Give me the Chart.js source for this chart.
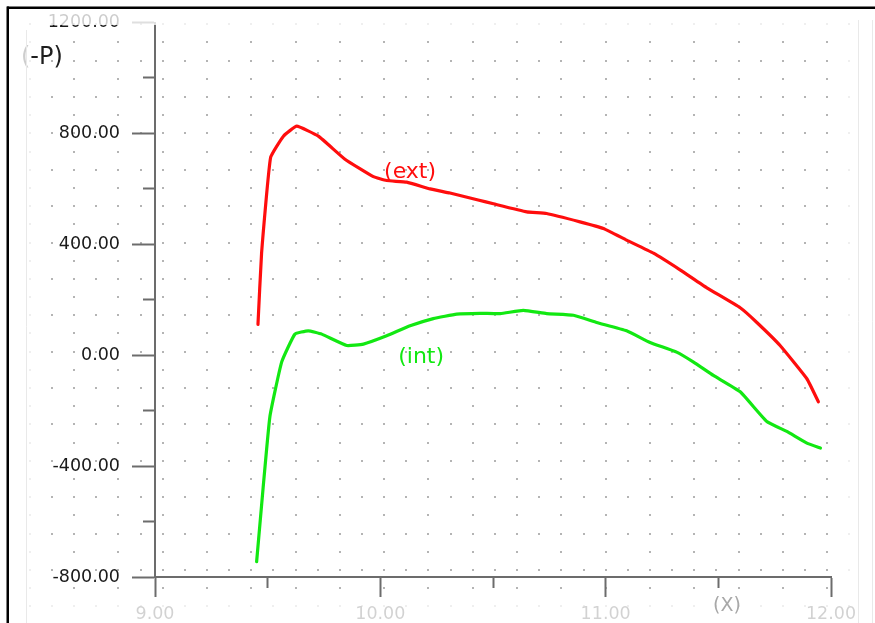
<!DOCTYPE html>
<html>
<head>
<meta charset="utf-8">
<script src="https://cdn.jsdelivr.net/npm/chart.js@4/dist/chart.umd.min.js"></script>
<style>
  html, body { margin: 0; padding: 0; background: #fff; }
  canvas { display: block; }
</style>
</head>
<body>
<canvas id="chart" width="875" height="623"></canvas>
<script>
// External pressure curve (ext)
const extX = [9.457, 9.473, 9.513, 9.570, 9.629, 9.725, 9.843, 9.969, 10.028, 10.117,
              10.221, 10.309, 10.434, 10.502, 10.650, 10.738, 10.886, 10.990, 11.093,
              11.212, 11.330, 11.449, 11.597, 11.671, 11.774, 11.893, 11.944];
const extY = [111, 368, 713, 790, 826, 790, 707, 644, 630, 624,
              600, 585, 560, 546, 517, 511, 481, 457, 415,
              368, 308, 243, 171, 118, 35, -85, -168];

// Internal pressure curve (int)
const intX = [9.451, 9.480, 9.510, 9.562, 9.621, 9.680, 9.740, 9.851, 9.925, 10.028,
              10.132, 10.235, 10.339, 10.443, 10.532, 10.635, 10.738, 10.857, 10.960,
              11.093, 11.197, 11.315, 11.390, 11.478, 11.597, 11.715, 11.804, 11.893, 11.953];
const intY = [-745, -477, -221, -25, 76, 88, 76, 35, 40, 70,
              106, 132, 148, 151, 150, 162, 150, 144, 118,
              88, 46, 11, -25, -73, -132, -239, -275, -317, -335];

// Axis ranges and tick steps
const xRange = [9, 12];
const yRange = [-800, 1200];
const xStep = 0.5;
const yStep = 200;
const yLabelStep = 400;

// Curve names placed next to each curve (x, y in data units)
const curveNames = ['(ext)', '(int)'];
const curveNameX = [10.132, 10.181];
const curveNameY = [661, -7];

const RED = '#ff0d0d';
const GREEN = '#12e812';
const AXIS = '#6c6c6c';
const FONT = 'DejaVu Sans';

const toPoints = (xs, ys) => xs.map((v, i) => ({ x: v, y: ys[i] }));

// Dotted background: a dense/sparse alternating dot lattice
const dotGrid = {
  id: 'dotGrid',
  beforeDraw(chart) {
    const { ctx, scales: { x, y } } = chart;
    const DX = 0.0983, DY = 65.6;
    ctx.save();
    ctx.fillStyle = '#b4b4b4';
    for (let j = -40; j <= 40; j++) {
      const py = y.getPixelForValue(800 + j * DY);
      if (py < 14 || py > 612) continue;
      const dense = (j % 2 === 0);
      for (let i = -60; i <= 30; i++) {
        if (!dense && (i % 2 !== 0)) continue;
        const px = x.getPixelForValue(11 + i * DX);
        if (px < 24 || px > 856) continue;
        ctx.fillRect(Math.round(px) - 1, Math.round(py) - 1, 2, 2);
      }
    }
    ctx.restore();
  }
};

// Curve names and axis captions
const captions = {
  id: 'captions',
  afterDatasetsDraw(chart) {
    const { ctx, scales: { x, y } } = chart;
    ctx.save();
    ctx.font = '22px "' + FONT + '"';
    ctx.textAlign = 'center';
    ctx.textBaseline = 'middle';
    const colors = [RED, GREEN];
    curveNames.forEach((t, i) => {
      ctx.fillStyle = colors[i];
      ctx.fillText(t, x.getPixelForValue(curveNameX[i]), y.getPixelForValue(curveNameY[i]));
    });
    ctx.font = '24px "' + FONT + '"';
    ctx.textAlign = 'left';
    ctx.fillStyle = '#1e1e1e';
    ctx.fillText('(-P)', 21, 58);
    ctx.restore();
  },
  afterDraw(chart) {
    const { ctx } = chart;
    const W = chart.width, H = chart.height;
    ctx.save();
    // washed-out margins
    ctx.fillStyle = 'rgba(255,255,255,0.78)';
    ctx.fillRect(9, 9, W - 9, 16);
    ctx.fillRect(9, 601, W - 9, H - 601);
    ctx.fillRect(9, 25, 22, 576);
    ctx.fillRect(846, 25, W - 846, 576);
    // faint edge rules
    ctx.strokeStyle = '#e9e9e9';
    ctx.lineWidth = 1;
    ctx.beginPath();
    ctx.moveTo(858.5, 20); ctx.lineTo(858.5, H);
    ctx.moveTo(872.5, 20); ctx.lineTo(872.5, H);
    ctx.moveTo(26.5, 30); ctx.lineTo(26.5, H);
    ctx.stroke();
    // x axis caption
    ctx.font = '19px "' + FONT + '"';
    ctx.textAlign = 'center';
    ctx.textBaseline = 'middle';
    ctx.fillStyle = '#a8a8a8';
    ctx.fillText('(X)', 727, 606);
    // frame
    ctx.fillStyle = '#000';
    ctx.fillRect(7, 6.5, W - 7, 2.5);
    ctx.fillRect(6.5, 6.5, 2.5, H - 6.5);
    ctx.restore();
  }
};

const isMultiple = (v, step) => Math.abs(v / step - Math.round(v / step)) < 1e-6;

new Chart(document.getElementById('chart'), {
  type: 'line',
  data: {
    datasets: [
      { label: 'ext', data: toPoints(extX, extY), borderColor: RED, borderWidth: 3.2,
        pointRadius: 0, tension: 0.12, fill: false, borderJoinStyle: 'round', borderCapStyle: 'round' },
      { label: 'int', data: toPoints(intX, intY), borderColor: GREEN, borderWidth: 3.2,
        pointRadius: 0, tension: 0.12, fill: false, borderJoinStyle: 'round', borderCapStyle: 'round' }
    ]
  },
  options: {
    responsive: false,
    animation: false,
    devicePixelRatio: 1,
    layout: { padding: { left: 9, top: 17, right: 44, bottom: 0 } },
    plugins: { legend: { display: false }, tooltip: { enabled: false } },
    scales: {
      x: {
        type: 'linear',
        min: xRange[0], max: xRange[1],
        afterFit(s) { s.height = 46; },
        border: { display: true, color: AXIS, width: 2 },
        grid: {
          drawOnChartArea: false, drawTicks: true,
          tickLength: 20, tickWidth: 2, tickColor: AXIS,
          tickBorderDash: c => (c.tick && !isMultiple(c.tick.value, 1)) ? [10, 40] : []
        },
        ticks: {
          stepSize: xStep, autoSkip: false, maxRotation: 0, padding: 7,
          color: '#333', font: { family: FONT, size: 17.5 },
          callback: v => isMultiple(v, 1) ? Number(v).toFixed(2) : ''
        }
      },
      y: {
        type: 'linear',
        min: yRange[0], max: yRange[1],
        afterFit(s) { s.width = 146; },
        border: { display: true, color: AXIS, width: 2 },
        grid: {
          drawOnChartArea: false, drawTicks: true,
          tickLength: 23, tickWidth: 2, tickColor: AXIS,
          tickBorderDash: c => (c.tick && !isMultiple(c.tick.value, yLabelStep)) ? [0, 11, 12, 40] : []
        },
        ticks: {
          stepSize: yStep, autoSkip: false, padding: 12,
          color: '#1a1a1a', font: { family: FONT, size: 17.5 },
          callback: v => isMultiple(v, yLabelStep) ? Number(v).toFixed(2) : ''
        }
      }
    }
  },
  plugins: [dotGrid, captions]
});
</script>
</body>
</html>
